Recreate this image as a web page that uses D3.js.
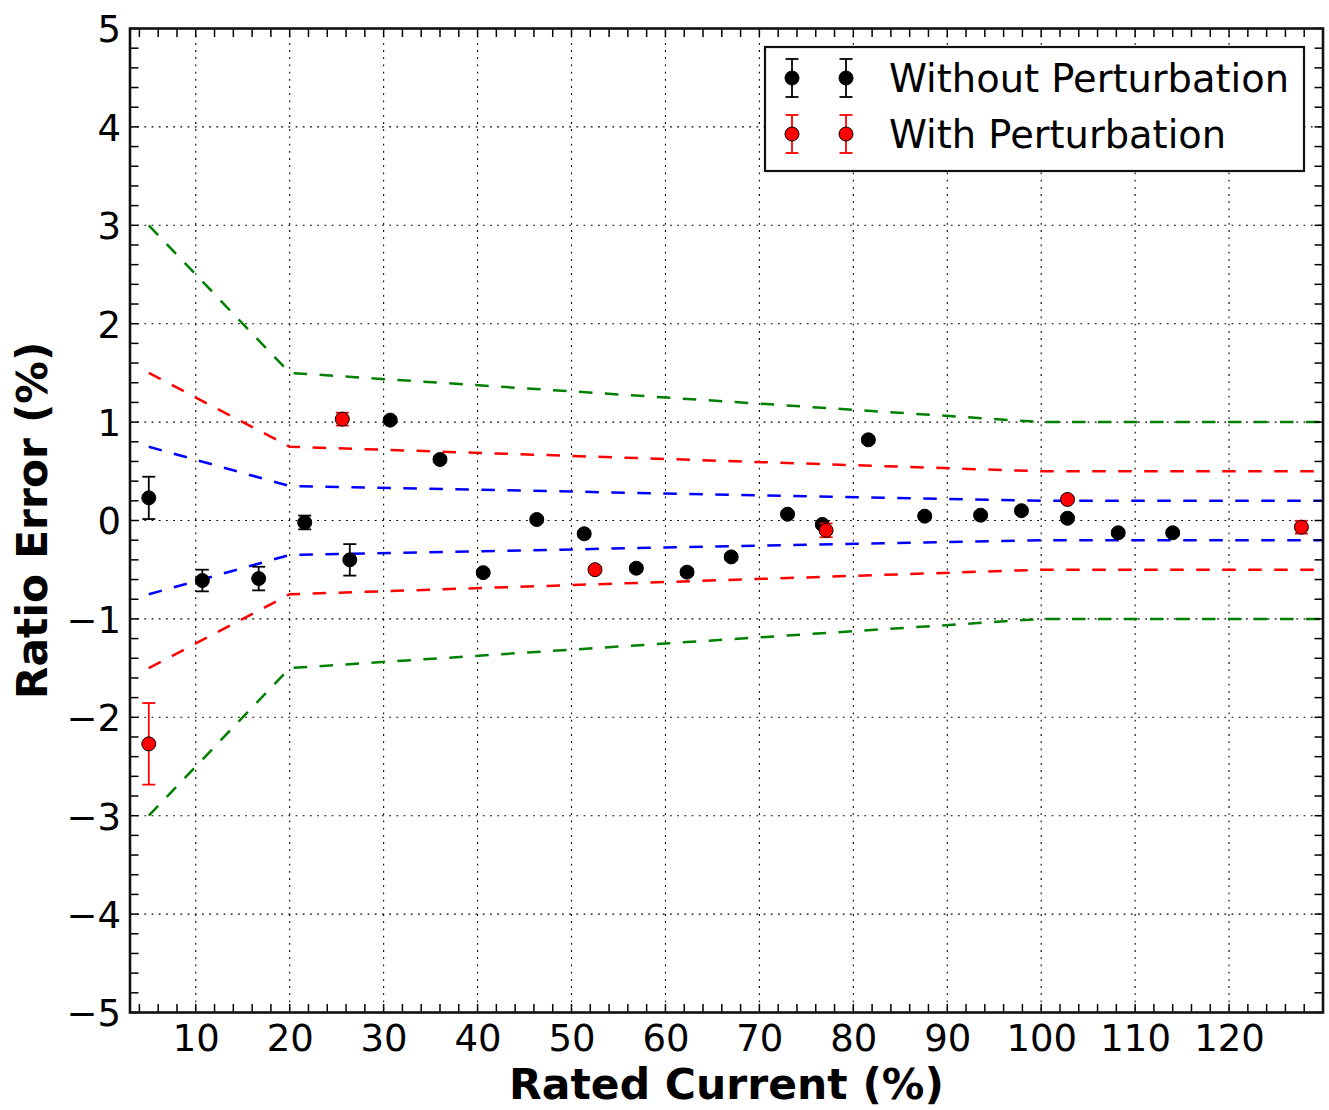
<!DOCTYPE html>
<html>
<head>
<meta charset="utf-8">
<script src="https://cdn.jsdelivr.net/npm/d3@7"></script>
<style>
  html, body { margin: 0; padding: 0; background: #fff; }
  svg { display: block; }
  text { font-family: "DejaVu Sans", sans-serif; fill: #000; }
</style>
</head>
<body>
<script>
// Measurements without perturbation
const currentPlain = [5, 10.7, 16.7, 21.6, 26.4, 30.7, 36.0, 40.6, 46.3, 51.35, 56.9, 62.3, 67.0, 73.0, 76.7, 81.6, 87.6, 93.55, 97.9, 102.8, 108.2, 114.0];
const errorPlain   = [0.23, -0.61, -0.59, -0.02, -0.40, 1.02, 0.62, -0.53, 0.01, -0.135, -0.485, -0.525, -0.37, 0.064, -0.04, 0.82, 0.044, 0.054, 0.10, 0.023, -0.125, -0.125];
const spreadPlain  = [0.215, 0.11, 0.12, 0.07, 0.16, 0.03, 0.03, 0.03, 0.03, 0.03, 0.03, 0.03, 0.03, 0.03, 0.03, 0.03, 0.03, 0.03, 0.03, 0.03, 0.03, 0.03];

// Measurements with perturbation
const currentPert = [5, 25.6, 52.5, 77.1, 102.8, 127.7];
const errorPert   = [-2.27, 1.03, -0.50, -0.10, 0.214, -0.068];
const spreadPert  = [0.415, 0.065, 0.03, 0.07, 0.03, 0.065];

// Accuracy class limits (rated current breakpoints)
const limitCurrent = [5, 20, 100, 130];
const limitClass02 = [0.75, 0.35, 0.2, 0.2];
const limitClass05 = [1.5, 0.75, 0.5, 0.5];
const limitClass1  = [3, 1.5, 1, 1];

const xTicks = [10, 20, 30, 40, 50, 60, 70, 80, 90, 100, 110, 120];
const yTicks = [-5, -4, -3, -2, -1, 0, 1, 2, 3, 4, 5];
const legendLabels = ["Without Perturbation", "With Perturbation"];

const W = 1329, H = 1110;
const plot = { left: 130, right: 1323, top: 28.5, bottom: 1012.5 };

const svg = d3.select("body").append("svg").attr("width", W).attr("height", H);

const x = d3.scaleLinear().domain([3, 130]).range([plot.left, plot.right]);
const y = d3.scaleLinear().domain([-5, 5]).range([plot.bottom, plot.top]);

svg.append("defs").append("clipPath").attr("id", "plotClip")
  .append("rect")
  .attr("x", plot.left).attr("y", plot.top)
  .attr("width", plot.right - plot.left).attr("height", plot.bottom - plot.top);

// Dotted grid
const grid = svg.append("g").attr("stroke", "#000").attr("stroke-width", 1.1)
  .attr("stroke-dasharray", "1.8,5.4").attr("fill", "none");
grid.selectAll("line.gx").data(xTicks).join("line").attr("class", "gx")
  .attr("x1", d => x(d)).attr("x2", d => x(d)).attr("y1", plot.top).attr("y2", plot.bottom);
grid.selectAll("line.gy").data(yTicks).join("line").attr("class", "gy")
  .attr("x1", plot.left).attr("x2", plot.right).attr("y1", d => y(d)).attr("y2", d => y(d));

// Limit lines (upper and lower for each class)
const limits = [
  { v: limitClass1, color: "#008000" },
  { v: limitClass05, color: "#ff0000" },
  { v: limitClass02, color: "#0000ff" }
];
const lineGen = d3.line().x(d => x(d[0])).y(d => y(d[1]));
const limG = svg.append("g").attr("clip-path", "url(#plotClip)");
limits.forEach(l => {
  [1, -1].forEach(sign => {
    const pts = limitCurrent.map((c, i) => [c, sign * l.v[i]]);
    limG.append("path").datum(pts).attr("d", lineGen)
      .attr("fill", "none").attr("stroke", l.color).attr("stroke-width", 2.5)
      .attr("stroke-dasharray", "13.5,12.5");
  });
});

// Error bars with markers
function drawSeries(g, xs, ys, es, color, fill) {
  const data = xs.map((c, i) => ({ c, v: ys[i], e: es[i] }));
  const eb = g.append("g").attr("stroke", color).attr("stroke-width", 1.8);
  eb.selectAll("line.bar").data(data).join("line").attr("class", "bar")
    .attr("x1", d => x(d.c)).attr("x2", d => x(d.c))
    .attr("y1", d => y(d.v - d.e)).attr("y2", d => y(d.v + d.e));
  eb.selectAll("line.capT").data(data).join("line").attr("class", "capT")
    .attr("x1", d => x(d.c) - 6.5).attr("x2", d => x(d.c) + 6.5)
    .attr("y1", d => y(d.v + d.e)).attr("y2", d => y(d.v + d.e));
  eb.selectAll("line.capB").data(data).join("line").attr("class", "capB")
    .attr("x1", d => x(d.c) - 6.5).attr("x2", d => x(d.c) + 6.5)
    .attr("y1", d => y(d.v - d.e)).attr("y2", d => y(d.v - d.e));
  g.append("g").selectAll("circle").data(data).join("circle")
    .attr("cx", d => x(d.c)).attr("cy", d => y(d.v)).attr("r", 7)
    .attr("fill", fill).attr("stroke", "#000").attr("stroke-width", 1);
}
const marks = svg.append("g").attr("clip-path", "url(#plotClip)");
drawSeries(marks, currentPlain, errorPlain, spreadPlain, "#000", "#000");
drawSeries(marks, currentPert, errorPert, spreadPert, "#ff0000", "#ff0000");

// Ticks inside on all four sides
const xMinor = d3.range(4, 130.1, 2);
const yMinor = d3.range(-50, 51, 2).map(v => v / 10);
const tickLen = 8.5;
const tk = svg.append("g").attr("stroke", "#000").attr("stroke-width", 1.5);
tk.selectAll("line.xb").data(xMinor).join("line").attr("class", "xb")
  .attr("x1", d => x(d)).attr("x2", d => x(d)).attr("y1", plot.bottom).attr("y2", plot.bottom - tickLen);
tk.selectAll("line.xt").data(xMinor).join("line").attr("class", "xt")
  .attr("x1", d => x(d)).attr("x2", d => x(d)).attr("y1", plot.top).attr("y2", plot.top + tickLen);
tk.selectAll("line.yl").data(yMinor).join("line").attr("class", "yl")
  .attr("x1", plot.left).attr("x2", plot.left + tickLen).attr("y1", d => y(d)).attr("y2", d => y(d));
tk.selectAll("line.yr").data(yMinor).join("line").attr("class", "yr")
  .attr("x1", plot.right).attr("x2", plot.right - tickLen).attr("y1", d => y(d)).attr("y2", d => y(d));

// Frame
svg.append("rect")
  .attr("x", plot.left).attr("y", plot.top)
  .attr("width", plot.right - plot.left).attr("height", plot.bottom - plot.top)
  .attr("fill", "none").attr("stroke", "#111").attr("stroke-width", 2.6);

// Tick labels via d3 axes
const xAxis = d3.axisBottom(x).tickValues(xTicks).tickSize(0).tickPadding(0).tickFormat(d3.format("d"));
const xg = svg.append("g").attr("transform", `translate(0,${plot.bottom})`).call(xAxis);
xg.select(".domain").remove();
xg.selectAll("text").attr("y", 38).attr("dy", null)
  .style("font-size", "37px").style("font-family", "'DejaVu Sans', sans-serif").attr("fill", "#000");

const yAxis = d3.axisLeft(y).tickValues(yTicks).tickSize(0).tickPadding(0)
  .tickFormat(d => d < 0 ? "\u2212" + Math.abs(d) : String(d));
const yg = svg.append("g").attr("transform", `translate(${plot.left - 9},0)`).call(yAxis);
yg.select(".domain").remove();
yg.selectAll("text").attr("x", 0).attr("dy", "0.36em")
  .style("font-size", "37px").style("font-family", "'DejaVu Sans', sans-serif").attr("fill", "#000");

// Axis titles
svg.append("text")
  .attr("x", (plot.left + plot.right) / 2).attr("y", 1099)
  .attr("text-anchor", "middle").style("font-size", "42.5px").style("font-weight", "bold")
  .text("Rated Current (%)");
svg.append("text")
  .attr("transform", `translate(47,${(plot.top + plot.bottom) / 2}) rotate(-90)`)
  .attr("text-anchor", "middle").style("font-size", "42.5px").style("font-weight", "bold")
  .text("Ratio Error (%)");

// Legend
const leg = svg.append("g");
leg.append("rect").attr("x", 765).attr("y", 47).attr("width", 539).attr("height", 124)
  .attr("fill", "#fff").attr("stroke", "#111").attr("stroke-width", 2.2);
const legendStyles = [
  { color: "#000", fill: "#000", cy: 78 },
  { color: "#ff0000", fill: "#ff0000", cy: 134 }
];
legendStyles.forEach((s, i) => {
  [792, 846].forEach(cx => {
    const g = leg.append("g").attr("stroke", s.color).attr("stroke-width", 1.8);
    g.append("line").attr("x1", cx).attr("x2", cx).attr("y1", s.cy - 19).attr("y2", s.cy + 19);
    g.append("line").attr("x1", cx - 6.5).attr("x2", cx + 6.5).attr("y1", s.cy - 19).attr("y2", s.cy - 19);
    g.append("line").attr("x1", cx - 6.5).attr("x2", cx + 6.5).attr("y1", s.cy + 19).attr("y2", s.cy + 19);
    leg.append("circle").attr("cx", cx).attr("cy", s.cy).attr("r", 7)
      .attr("fill", s.fill).attr("stroke", "#000").attr("stroke-width", 1);
  });
  leg.append("text").attr("x", 889).attr("y", s.cy).attr("dy", "0.36em")
    .style("font-size", "38.4px").text(legendLabels[i]);
});
</script>
</body>
</html>
